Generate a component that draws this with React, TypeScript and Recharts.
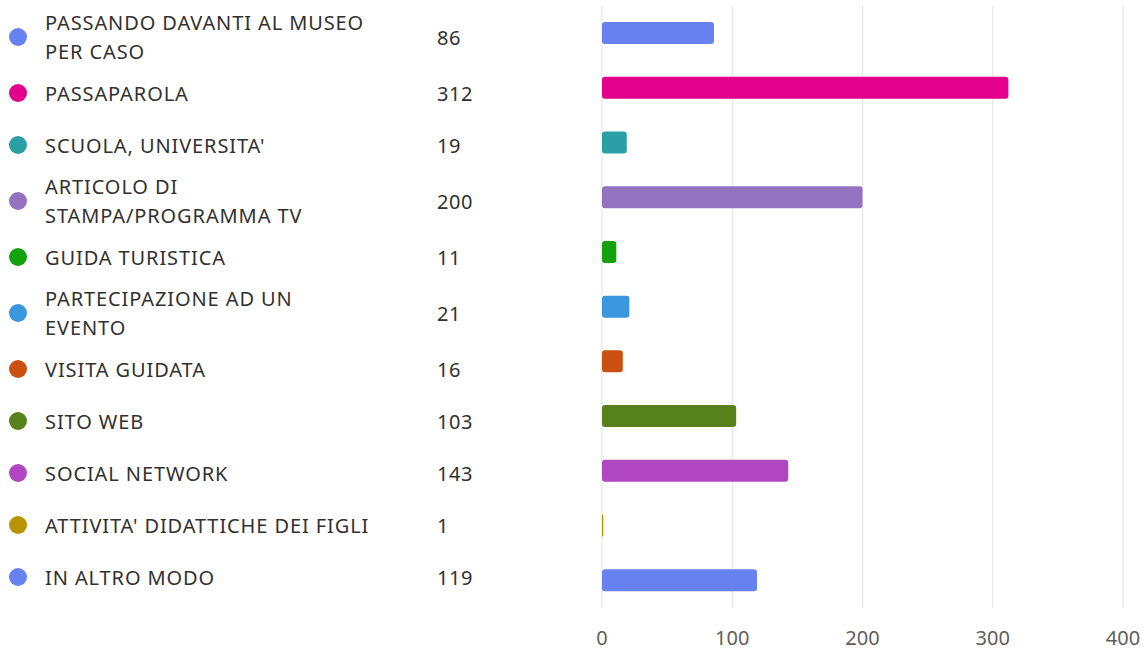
import React from 'react';
import { BarChart, Bar, XAxis, YAxis, CartesianGrid, Cell } from 'recharts';

const categories = [
  'PASSANDO DAVANTI AL MUSEO\nPER CASO',
  'PASSAPAROLA',
  "SCUOLA, UNIVERSITA'",
  'ARTICOLO DI\nSTAMPA/PROGRAMMA TV',
  'GUIDA TURISTICA',
  'PARTECIPAZIONE AD UN\nEVENTO',
  'VISITA GUIDATA',
  'SITO WEB',
  'SOCIAL NETWORK',
  "ATTIVITA' DIDATTICHE DEI FIGLI",
  'IN ALTRO MODO',
];
const values = [86, 312, 19, 200, 11, 21, 16, 103, 143, 1, 119];
const colors = [
  '#6781F0', '#E3008C', '#2AA0A4', '#9373C0', '#13A10E', '#3A96DD',
  '#CA5010', '#57811B', '#B146C2', '#B89500', '#6781F0',
];
const xTicks = [0, 100, 200, 300, 400];

const data = categories.map((c, i) => ({ name: c, value: values[i], color: colors[i] }));

const FONT = '"Noto Sans", "Open Sans", sans-serif';

export default function App() {
  return (
    <div style={{ position: 'absolute', left: 0, top: 0, width: 1143, height: 650, background: '#fff', fontFamily: FONT }}>
      <div style={{ position: 'absolute', left: 0, top: 7, width: 560 }}>
        {data.map((d, i) => {
          const two = d.name.includes('\n');
          return (
            <div key={i} style={{ position: 'relative', height: two ? 60 : 52 }}>
              <div style={{ position: 'absolute', left: 9, width: 18, height: 18, borderRadius: 9, background: d.color, top: '50%', marginTop: -9 }} />
              <div style={{ position: 'absolute', left: 45, whiteSpace: 'pre', fontSize: 20, letterSpacing: 0.9, lineHeight: '29px', color: '#323130', top: '50%', transform: 'translateY(-50%)' }}>
                {d.name}
              </div>
              <div style={{ position: 'absolute', left: 437, fontSize: 20, letterSpacing: 0.6, lineHeight: '29px', color: '#323130', top: '50%', transform: 'translateY(-50%)' }}>
                {d.value}
              </div>
            </div>
          );
        })}
      </div>
      <div style={{ position: 'absolute', left: 0, top: 0 }}>
        <BarChart
          width={1143}
          height={650}
          data={data}
          layout="vertical"
          margin={{ left: 602, right: 20, top: 6, bottom: 0 }}
          barSize={22}
        >
          <CartesianGrid horizontal={false} stroke="#e3e3e3" />
          <XAxis
            type="number"
            domain={[0, 400]}
            ticks={xTicks}
            height={42}
            axisLine={false}
            tickLine={false}
            tickSize={0}
            tickMargin={23}
            tick={{ fill: '#605E5C', fontSize: 20, fontFamily: FONT }}
          />
          <YAxis
            type="category"
            dataKey="name"
            width={0}
            tick={false}
            tickLine={false}
            axisLine={{ stroke: '#d0d0d0', strokeWidth: 2 }}
          />
          <Bar dataKey="value" isAnimationActive={false} radius={3}>
            {data.map((d, i) => (
              <Cell key={i} fill={d.color} />
            ))}
          </Bar>
        </BarChart>
      </div>
    </div>
  );
}
